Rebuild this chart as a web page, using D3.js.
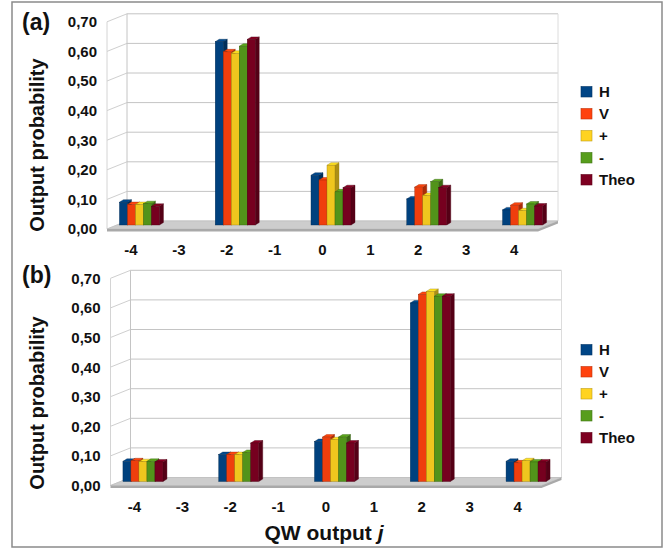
<!DOCTYPE html>
<html><head><meta charset="utf-8">
<script src="https://cdn.jsdelivr.net/npm/d3@7"></script>
<style>
html,body{margin:0;padding:0;background:#fff;}
text{font-family:"Liberation Sans",Arial,Helvetica,sans-serif;font-weight:bold;fill:#111;}
</style></head>
<body><svg id="c" width="670" height="550"></svg>
<script>
// ---- data ----
const categories = [-4, -3, -2, -1, 0, 1, 2, 3, 4];
const seriesNames = ["H", "V", "+", "-", "Theo"];
const seriesColors = ["#004586", "#ff420e", "#ffd320", "#579d1c", "#7e0021"];
const yTicks = [0, 0.1, 0.2, 0.3, 0.4, 0.5, 0.6, 0.7];
const yTickLabels = ["0,00", "0,10", "0,20", "0,30", "0,40", "0,50", "0,60", "0,70"];
// panel (a) values per series, one per category (null = no bar)
const aH    = [0.077, null, 0.619, null, 0.168, null, 0.088, null, 0.051];
const aV    = [0.069, null, 0.585, null, 0.152, null, 0.128, null, 0.067];
const aPlus = [0.069, null, 0.580, null, 0.202, null, 0.100, null, 0.048];
const aMinus= [0.072, null, 0.604, null, 0.112, null, 0.146, null, 0.071];
const aTheo = [0.063, null, 0.627, null, 0.126, null, 0.126, null, 0.064];
// panel (b)
const bH    = [0.068, null, 0.091, null, 0.135, null, 0.603, null, 0.068];
const bV    = [0.070, null, 0.091, null, 0.150, null, 0.632, null, 0.063];
const bPlus = [0.067, null, 0.091, null, 0.141, null, 0.642, null, 0.070];
const bMinus= [0.068, null, 0.098, null, 0.150, null, 0.626, null, 0.066];
const bTheo = [0.066, null, 0.130, null, 0.130, null, 0.626, null, 0.066];

const svg = d3.select("#c");
svg.append("rect").attr("x",12).attr("y",2).attr("width",650).attr("height",545)
  .attr("fill","#fff").attr("stroke","#8a8a8a").attr("stroke-width",1.5);

const DX = 20, DY = -8;      // wall depth offset
const BDX = 4, BDY = -2.5;   // bar depth offset

function drawPanel(p) {
  const g = svg.append("g");
  const x = d3.scaleBand().domain(categories).range([p.x0, p.x0 + 431]).padding(0);
  const y = d3.scaleLinear().domain([0, 0.7]).range([p.y0, p.y0 - 0.7 * 296]);
  const yMax = 0.7;
  const x1 = p.x0 + 431;
  // back wall gridlines
  g.selectAll(".grid").data(yTicks).join("line")
    .attr("x1", p.x0 + DX).attr("x2", x1 + DX)
    .attr("y1", d => y(d) + DY).attr("y2", d => y(d) + DY)
    .attr("stroke", "#c4c4c4").attr("stroke-width", 1);
  // side wall diagonal lines
  g.selectAll(".side").data(yTicks).join("line")
    .attr("x1", p.x0).attr("x2", p.x0 + DX)
    .attr("y1", d => y(d)).attr("y2", d => y(d) + DY)
    .attr("stroke", "#cfcfcf").attr("stroke-width", 1);
  // wall edges
  g.append("line").attr("x1", p.x0).attr("x2", p.x0).attr("y1", y(yMax)).attr("y2", y(0))
    .attr("stroke", "#d4d4d4");
  g.append("line").attr("x1", p.x0 + DX).attr("x2", p.x0 + DX).attr("y1", y(yMax) + DY).attr("y2", y(0) + DY)
    .attr("stroke", "#c4c4c4");
  g.append("line").attr("x1", x1 + DX).attr("x2", x1 + DX).attr("y1", y(yMax) + DY).attr("y2", y(0) + DY)
    .attr("stroke", "#dcdcdc");
  // floor
  const fy = y(0);
  g.append("polygon")
    .attr("points", [[p.x0, fy], [p.x0 + DX, fy + DY], [x1 + DX, fy + DY], [x1, fy]].join(" "))
    .attr("fill", "#cdcdcd").attr("stroke", "#bdbdbd").attr("stroke-width", 0.6);
  g.append("polygon")
    .attr("points", [[p.x0, fy], [x1, fy], [x1 + DX, fy + DY], [x1 + DX, fy + DY + 2.5], [x1, fy + 2.5], [p.x0, fy + 2.5]].join(" "))
    .attr("fill", "#a9a9a9").attr("stroke", "none");
  // bars
  const inner = d3.scaleBand().domain(seriesNames).range([-20, 20]);
  const yb = v => y(v) + DY / 2;
  categories.forEach((c, ci) => {
    const cx = x(c) + x.bandwidth() / 2 + DX / 2 - 1.5;
    seriesNames.forEach((s, si) => {
      const v = p.vals[si][ci];
      if (v == null) return;
      const col = d3.color(seriesColors[si]);
      const front = col.darker(0.18), side = col.darker(1.1), top = col.brighter(0.2), edge = col.darker(1.4);
      const bx = cx + inner(s), w = inner.bandwidth();
      const yt = yb(v), ybot = yb(0);
      const bg = g.append("g");
      bg.append("polygon").attr("points", [[bx + w, yt], [bx + w + BDX, yt + BDY], [bx + w + BDX, ybot + BDY], [bx + w, ybot]].join(" "))
        .attr("fill", side).attr("stroke", edge).attr("stroke-width", 0.4);
      bg.append("polygon").attr("points", [[bx, yt], [bx + BDX, yt + BDY], [bx + w + BDX, yt + BDY], [bx + w, yt]].join(" "))
        .attr("fill", top).attr("stroke", edge).attr("stroke-width", 0.4);
      bg.append("rect").attr("x", bx).attr("y", yt).attr("width", w).attr("height", ybot - yt)
        .attr("fill", front).attr("stroke", edge).attr("stroke-width", 0.4);
    });
  });
  // y tick labels
  g.selectAll(".yl").data(yTicks).join("text")
    .attr("x", p.x0 - 10).attr("y", d => y(d)).attr("dy", "0.36em")
    .attr("text-anchor", "end").attr("font-size", 15)
    .text((d, i) => yTickLabels[i]);
  // x labels
  g.selectAll(".xl").data(categories).join("text")
    .attr("x", c => x(c) + x.bandwidth() / 2).attr("y", p.xLabelY).attr("dy", "0.36em")
    .attr("text-anchor", "middle").attr("font-size", 15)
    .text(c => c);
  // y axis title
  g.append("text").attr("transform", `translate(${p.titleX},${p.titleY}) rotate(-90)`)
    .attr("text-anchor", "middle").attr("dy", "0.36em").attr("font-size", 20)
    .text("Output probability");
  // panel tag
  g.append("text").attr("x", p.tagX).attr("y", p.tagY).attr("dy", "0.36em")
    .attr("font-size", 23).text(p.tag);
  // legend
  const lg = g.append("g");
  seriesNames.forEach((s, si) => {
    const ly = p.legY + si * 22;
    lg.append("rect").attr("x", 581).attr("y", ly - 5).attr("width", 11).attr("height", 10.5)
      .attr("fill", seriesColors[si]).attr("stroke", d3.color(seriesColors[si]).darker(0.8)).attr("stroke-width", 0.6);
    lg.append("text").attr("x", 599).attr("y", ly).attr("dy", "0.36em").attr("font-size", 15).text(s);
  });
}

drawPanel({ x0: 107, y0: 229, vals: [aH, aV, aPlus, aMinus, aTheo], xLabelY: 249.5,
  titleX: 37, titleY: 145, tag: "(a)", tagX: 22, tagY: 22, legY: 91.5 });
drawPanel({ x0: 110.5, y0: 485.5, vals: [bH, bV, bPlus, bMinus, bTheo], xLabelY: 507,
  titleX: 37, titleY: 403, tag: "(b)", tagX: 22, tagY: 275, legY: 349.5 });

// x axis title
const t = svg.append("text").attr("x", 324).attr("y", 532).attr("dy", "0.36em")
  .attr("text-anchor", "middle").attr("font-size", 21);
t.append("tspan").text("QW output ");
t.append("tspan").attr("font-style", "italic").text("j");
</script>
</body></html>
